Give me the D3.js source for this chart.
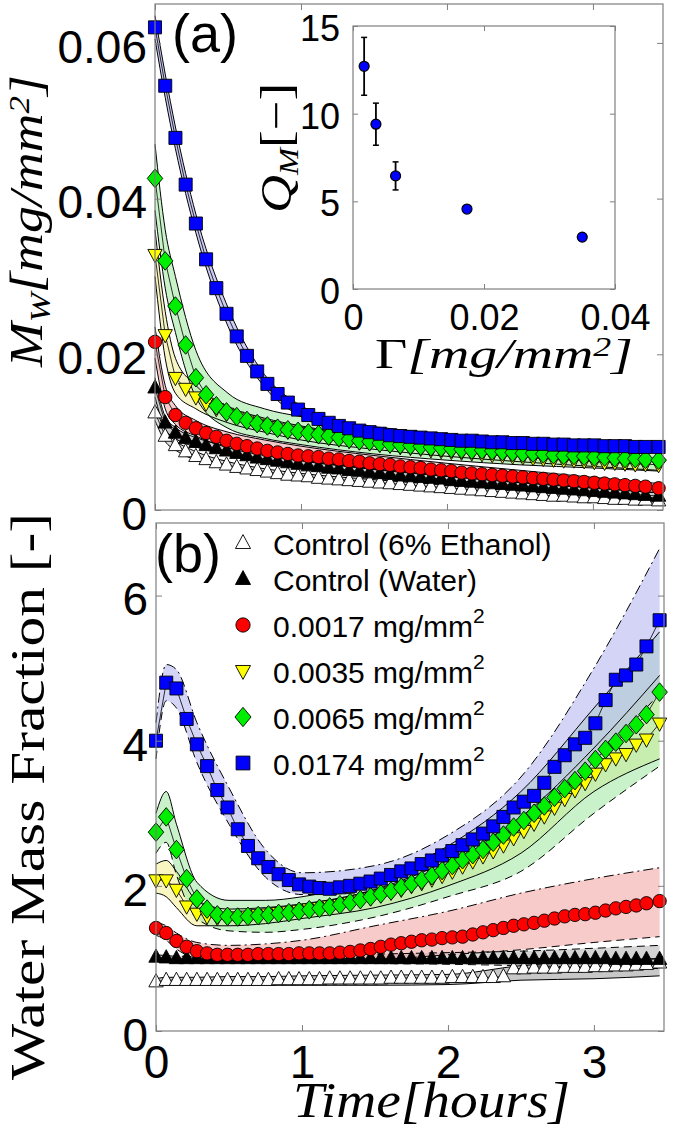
<!DOCTYPE html>
<html><head><meta charset="utf-8">
<script src="https://cdn.jsdelivr.net/npm/d3@7"></script>
<style>body{margin:0;background:#fff}svg{display:block}</style>
</head><body>
<svg id="chart" width="675" height="1133"></svg>
<script>
// ---------------- DATA ----------------
const time = [0,0.07,0.14,0.21,0.28,0.35,0.42,0.49,0.56,0.63,0.70,0.77,0.84,0.91,0.98,1.05,1.12,1.19,1.26,1.33,1.40,1.47,1.54,1.61,1.68,1.75,1.82,1.89,1.96,2.03,2.10,2.17,2.24,2.31,2.38,2.45,2.52,2.59,2.66,2.73,2.80,2.87,2.94,3.01,3.08,3.15,3.22,3.29,3.36,3.45];
const seriesNames = ["Control (6% Ethanol)","Control (Water)","0.0017 mg/mm","0.0035 mg/mm","0.0065 mg/mm","0.0174 mg/mm"];
const seriesSup = [false,false,true,true,true,true];

// (a) water mass per area
const mwEthanol = [0.0125,0.0095,0.0083,0.0075,0.0069,0.0065,0.0061,0.0058,0.0055,0.0053,
 0.0051,0.0049,0.0047,0.0045,0.0044,0.0043,0.0041,0.0040,0.0039,0.0038,
 0.0037,0.0036,0.0035,0.0034,0.0033,0.0032,0.0031,0.0030,0.0029,0.0028,
 0.0027,0.0026,0.0025,0.0024,0.0023,0.0022,0.0021,0.0020,0.0019,0.0018,
 0.0018,0.0017,0.0016,0.0016,0.0015,0.0014,0.0014,0.0013,0.0013,0.0012];
const mwWater = [0.0157,0.0112,0.0099,0.0092,0.0087,0.0083,0.0079,0.0076,0.0073,0.0070,
 0.0067,0.0065,0.0063,0.0061,0.0059,0.0057,0.0056,0.0054,0.0053,0.0051,
 0.0050,0.0048,0.0047,0.0046,0.0044,0.0043,0.0042,0.0041,0.0040,0.0038,
 0.0037,0.0036,0.0035,0.0034,0.0033,0.0032,0.0031,0.0030,0.0029,0.0028,
 0.0027,0.0026,0.0025,0.0024,0.0023,0.0022,0.0021,0.0020,0.0019,0.0018];
const mw0017 = [0.0216,0.0145,0.0122,0.0112,0.0105,0.0099,0.0094,0.0089,0.0085,0.0082,
 0.0079,0.0076,0.0074,0.0072,0.0070,0.0069,0.0068,0.0066,0.0065,0.0063,
 0.0062,0.0060,0.0059,0.0058,0.0056,0.0055,0.0054,0.0052,0.0051,0.0050,
 0.0048,0.0047,0.0046,0.0045,0.0044,0.0043,0.0042,0.0041,0.0040,0.0039,
 0.0038,0.0037,0.0036,0.0035,0.0034,0.0033,0.0032,0.0031,0.0030,0.0028];
const mw0035 = [0.0328,0.0225,0.0170,0.0156,0.0145,0.0137,0.0130,0.0124,0.0119,0.0114,
 0.0110,0.0107,0.0104,0.0101,0.0099,0.0097,0.0095,0.0093,0.0091,0.0089,
 0.0087,0.0086,0.0084,0.0083,0.0081,0.0080,0.0079,0.0077,0.0076,0.0075,
 0.0074,0.0073,0.0072,0.0071,0.0070,0.0069,0.0068,0.0067,0.0066,0.0065,
 0.0064,0.0064,0.0063,0.0062,0.0061,0.0061,0.0060,0.0059,0.0059,0.0058];
const mw0065 = [0.0426,0.0320,0.0262,0.0212,0.0170,0.0148,0.0134,0.0126,0.0120,0.0115,
 0.0111,0.0108,0.0105,0.0103,0.0101,0.0099,0.0097,0.0095,0.0093,0.0091,
 0.0089,0.0088,0.0086,0.0085,0.0084,0.0083,0.0082,0.0081,0.0080,0.0079,
 0.0078,0.0077,0.0077,0.0076,0.0075,0.0074,0.0073,0.0073,0.0072,0.0071,
 0.0070,0.0070,0.0069,0.0068,0.0068,0.0067,0.0066,0.0066,0.0065,0.0064];
const mw0174 = [0.0620,0.0545,0.0478,0.0418,0.0368,0.0322,0.0285,0.0252,0.0223,0.0198,
 0.0178,0.0162,0.0149,0.0138,0.0129,0.0122,0.0117,0.0112,0.0108,0.0105,
 0.0102,0.0100,0.0098,0.0096,0.0095,0.0094,0.0093,0.0092,0.0091,0.0090,
 0.0089,0.0089,0.0088,0.0087,0.0087,0.0086,0.0086,0.0085,0.0085,0.0084,
 0.0084,0.0083,0.0083,0.0083,0.0082,0.0082,0.0082,0.0081,0.0081,0.0081];

// (a) uncertainty bands (coarse time grid)
const bandTime = [0,0.07,0.14,0.28,0.5,0.75,1.0,1.5,2.0,2.5,3.0,3.45];
const mwEthanolLo = [0.0115,0.0088,0.0077,0.0064,0.0053,0.0045,0.0040,0.0033,0.0026,0.0019,0.0014,0.0010];
const mwEthanolHi = [0.0135,0.0102,0.0089,0.0075,0.0062,0.0053,0.0047,0.0039,0.0032,0.0025,0.0019,0.0015];
const mwWaterLo = [0.0145,0.0104,0.0092,0.0081,0.0070,0.0061,0.0054,0.0043,0.0035,0.0028,0.0021,0.0015];
const mwWaterHi = [0.0170,0.0120,0.0106,0.0093,0.0082,0.0072,0.0064,0.0053,0.0044,0.0036,0.0029,0.0022];
const mw0017Lo = [0.0195,0.0130,0.0110,0.0095,0.0080,0.0070,0.0063,0.0052,0.0043,0.0035,0.0028,0.0022];
const mw0017Hi = [0.0235,0.0160,0.0134,0.0115,0.0100,0.0090,0.0082,0.0070,0.0060,0.0051,0.0042,0.0034];
const mw0035Lo = [0.0300,0.0195,0.0150,0.0130,0.0112,0.0100,0.0090,0.0078,0.0069,0.0062,0.0056,0.0051];
const mw0035Hi = [0.0360,0.0255,0.0195,0.0160,0.0133,0.0118,0.0108,0.0094,0.0085,0.0077,0.0071,0.0066];
const mw0065Lo = [0.0385,0.0285,0.0228,0.0145,0.0105,0.0092,0.0084,0.0072,0.0064,0.0058,0.0054,0.0050];
const mw0065Hi = [0.0470,0.0360,0.0300,0.0205,0.0150,0.0130,0.0120,0.0107,0.0097,0.0088,0.0081,0.0076];
const mw0174Lo = [0.0605,0.0530,0.0464,0.0356,0.0236,0.0158,0.0120,0.0093,0.0084,0.0080,0.0077,0.0075];
const mw0174Hi = [0.0635,0.0560,0.0492,0.0380,0.0260,0.0174,0.0134,0.0105,0.0096,0.0091,0.0088,0.0086];

// (b) water mass fraction
const wfEthanol = [0.68,0.70,0.70,0.70,0.70,0.70,0.70,0.70,0.70,0.70,
 0.70,0.70,0.71,0.71,0.71,0.71,0.71,0.72,0.72,0.72,
 0.72,0.72,0.72,0.73,0.73,0.73,0.73,0.73,0.73,0.74,
 0.74,0.74,0.74,0.74,0.75,0.86,0.86,0.87,0.87,0.87,
 0.88,0.88,0.88,0.89,0.89,0.90,0.90,0.91,0.92,0.94];
const wfWater = [1.02,1.01,1.00,1.00,1.00,1.00,1.00,1.00,1.00,1.00,
 1.00,1.00,1.00,1.00,1.00,1.00,1.00,1.00,1.00,1.00,
 1.00,1.00,1.00,1.00,1.00,1.00,1.00,1.00,1.00,1.00,
 1.00,1.00,1.00,1.00,1.00,1.00,1.00,1.00,1.00,1.00,
 1.00,1.00,1.00,1.00,1.00,0.99,0.99,0.99,0.99,0.99];
const wf0017 = [1.42,1.35,1.24,1.16,1.10,1.07,1.05,1.05,1.05,1.05,
 1.06,1.06,1.06,1.06,1.07,1.07,1.07,1.07,1.08,1.09,
 1.11,1.13,1.16,1.19,1.21,1.23,1.25,1.26,1.28,1.29,
 1.30,1.33,1.36,1.39,1.42,1.45,1.47,1.49,1.52,1.55,
 1.58,1.60,1.61,1.63,1.66,1.69,1.71,1.73,1.76,1.79];
const wf0035 = [2.08,2.08,1.95,1.72,1.62,1.58,1.56,1.56,1.57,1.58,
 1.60,1.61,1.63,1.64,1.66,1.68,1.70,1.72,1.74,1.77,
 1.80,1.83,1.87,1.91,1.95,2.00,2.04,2.09,2.14,2.20,
 2.27,2.34,2.41,2.48,2.56,2.66,2.76,2.86,2.96,3.08,
 3.20,3.32,3.42,3.55,3.68,3.76,3.82,3.95,4.02,4.24];
const wf0065 = [2.74,2.95,2.50,2.10,1.82,1.68,1.60,1.58,1.57,1.58,
 1.59,1.60,1.62,1.63,1.65,1.67,1.69,1.71,1.74,1.77,
 1.81,1.85,1.89,1.93,1.98,2.03,2.08,2.14,2.21,2.28,
 2.36,2.43,2.50,2.60,2.70,2.81,2.90,3.00,3.10,3.22,
 3.34,3.45,3.58,3.74,3.88,3.98,4.10,4.22,4.36,4.67];
const wf0174 = [4.00,4.80,4.72,4.30,3.95,3.65,3.32,3.08,2.78,2.55,
 2.38,2.26,2.16,2.08,2.02,1.99,1.97,1.96,1.98,2.00,
 2.03,2.06,2.10,2.15,2.20,2.24,2.30,2.35,2.42,2.48,
 2.56,2.64,2.72,2.82,2.95,3.08,3.16,3.24,3.42,3.64,
 3.80,3.95,4.04,4.24,4.56,4.84,4.90,5.05,5.30,5.66];

// (b) bands
const wfEthanolLo = [0.64,0.63,0.63,0.63,0.63,0.63,0.63,0.63,0.64,0.70,0.72,0.76];
const wfEthanolHi = [0.72,0.74,0.74,0.74,0.75,0.75,0.76,0.77,0.78,0.90,0.96,1.00];
const wfWaterLo = [0.97,0.96,0.96,0.95,0.95,0.95,0.94,0.93,0.92,0.90,0.88,0.86];
const wfWaterHi = [1.05,1.04,1.03,1.03,1.03,1.04,1.05,1.06,1.08,1.10,1.14,1.18];
const wf0017Lo = [1.32,1.25,1.13,1.00,0.96,0.95,0.95,0.98,1.05,1.12,1.22,1.30];
const wf0017Hi = [1.50,1.45,1.35,1.22,1.18,1.20,1.25,1.45,1.65,1.90,2.10,2.25];
const wf0035Lo = [1.90,1.85,1.70,1.45,1.45,1.48,1.55,1.70,2.00,2.45,3.30,3.75];
const wf0035Hi = [2.30,2.35,2.20,1.80,1.68,1.70,1.75,1.95,2.35,2.95,3.90,4.90];
const wf0065Lo = [2.45,2.60,2.15,1.55,1.38,1.36,1.40,1.57,1.85,2.20,3.00,3.65];
const wf0065Hi = [3.00,3.30,2.85,2.05,1.80,1.80,1.85,2.10,2.55,3.30,4.45,5.50];
const wf0174Lo = [3.75,4.55,4.45,3.70,2.85,2.12,1.88,1.92,2.22,2.78,3.70,4.65];
const wf0174Hi = [4.25,5.05,4.98,4.25,3.35,2.50,2.18,2.28,2.70,3.50,5.00,6.65];

// inset
const gammaVals = [0.0017,0.0035,0.0065,0.0174,0.0350];
const qmVals = [12.7,9.4,6.45,4.56,2.96];
const qmErr = [1.65,1.2,0.8,0.1,0.08];

// tick labels
const ticksTopY = [0,0.02,0.04,0.06];
const ticksBotY = [0,2,4,6];
const ticksX = [0,1,2,3];
const insetTicksX = [0,0.02,0.04];
const insetTicksY = [0,5,10,15];

// ---------------- STYLE ----------------
const markerFill = ["#ffffff","#000000","#ff0000","#ffff00","#00ee00","#0000ff"];
const bandFillA = ["#d0d0d0","#b8b8b8","#f4b8b8","#f6f2b0","#b6eeb6","#b8b8f0"];
const bandFillB = ["#9a9a9a","#b0b0b0","#f2a0a0","#f4ee90","#9ee89e","#b0b0f0"];
const serifFont = "'Liberation Serif', 'Times New Roman', Tinos, serif";
const sansFont = "'Liberation Sans', Arial, sans-serif";

const svg = d3.select("#chart");
const frameCol = "#7f7f7f";

// symbol types
const symSquare = {draw(c,s){const h=Math.sqrt(s)/2;c.moveTo(-h,-h);c.lineTo(h,-h);c.lineTo(h,h);c.lineTo(-h,h);c.closePath();}};
const symCircle = d3.symbolCircle;
const symTriUp = {draw(c,s){const w=Math.sqrt(s);c.moveTo(0,-w*0.58);c.lineTo(w*0.52,w*0.38);c.lineTo(-w*0.52,w*0.38);c.closePath();}};
const symTriDown = {draw(c,s){const w=Math.sqrt(s);c.moveTo(0,w*0.58);c.lineTo(w*0.52,-w*0.38);c.lineTo(-w*0.52,-w*0.38);c.closePath();}};
const symDiamond = {draw(c,s){const w=Math.sqrt(s);c.moveTo(0,-w*0.6);c.lineTo(w*0.5,0);c.lineTo(0,w*0.6);c.lineTo(-w*0.5,0);c.closePath();}};
const symTypes = [symTriUp,symTriUp,symCircle,symTriDown,symDiamond,symSquare];
const symSizes = [190,190,140,190,240,170];

// ---------------- SCALES ----------------
const xA = d3.scaleLinear().domain([0,3.48]).range([155,663]);
const yA = d3.scaleLinear().domain([0,0.065]).range([510,4]);
const xB = d3.scaleLinear().domain([0,3.48]).range([156,664]);
const yB = d3.scaleLinear().domain([0,7]).range([1031,523]);
const xI = d3.scaleLinear().domain([0,0.04]).range([353,615]);
const yI = d3.scaleLinear().domain([0,15]).range([289,26]);

function drawPanel(g, x, y, series, bands, bandFill, bandOpacity, edgeStyles){
  bands.forEach((b,i)=>{
    const pts = bandTime.map((t,k)=>({t, lo:b[0][k], hi:b[1][k]}));
    g.append("path").datum(pts)
      .attr("d", d3.area().x(d=>x(d.t)).y0(d=>y(d.lo)).y1(d=>y(d.hi)).curve(d3.curveMonotoneX))
      .attr("fill", bandFill[i]).attr("fill-opacity", bandOpacity).attr("stroke","none");
  });
  bands.forEach((b,i)=>{
    const pts = bandTime.map((t,k)=>({t, lo:b[0][k], hi:b[1][k]}));
    const es = edgeStyles[i];
    g.append("path").datum(pts)
      .attr("d", d3.line().x(d=>x(d.t)).y(d=>y(d.lo)).curve(d3.curveMonotoneX))
      .attr("fill","none").attr("stroke","#000").attr("stroke-width",1).attr("stroke-dasharray",es[0]);
    g.append("path").datum(pts)
      .attr("d", d3.line().x(d=>x(d.t)).y(d=>y(d.hi)).curve(d3.curveMonotoneX))
      .attr("fill","none").attr("stroke","#000").attr("stroke-width",1).attr("stroke-dasharray",es[1]);
  });
  series.forEach((vals,i)=>{
    const pts = time.map((t,k)=>({t, v:vals[k]}));
    g.append("path").datum(pts)
      .attr("d", d3.line().x(d=>x(d.t)).y(d=>y(d.v)))
      .attr("fill","none").attr("stroke","#000").attr("stroke-width",0.8);
    g.selectAll(null).data(pts).enter().append("path")
      .attr("transform", d=>`translate(${x(d.t)},${y(d.v)})`)
      .attr("d", d3.symbol().type(symTypes[i]).size(symSizes[i]))
      .attr("fill", markerFill[i]).attr("stroke","#000").attr("stroke-width",0.9);
  });
}

function frame(g, x, y, xt, yt, showXLabels, yFmt, fs){
  const [x0,x1] = x.range(); const [y0,y1] = y.range();
  g.append("rect").attr("x",x0).attr("y",y1).attr("width",x1-x0).attr("height",y0-y1)
    .attr("fill","none").attr("stroke",frameCol).attr("stroke-width",1.2);
  const ax = g.append("g").attr("transform",`translate(${x0},0)`)
    .call(d3.axisLeft(y).tickValues(yt).tickSize(-6).tickPadding(8).tickFormat(yFmt));
  const axR = g.append("g").attr("transform",`translate(${x1},0)`)
    .call(d3.axisRight(y).tickValues(yt).tickSize(-6).tickFormat(""));
  const axB = g.append("g").attr("transform",`translate(0,${y0})`)
    .call(d3.axisBottom(x).tickValues(xt).tickSize(-6).tickPadding(14).tickFormat(showXLabels? d3.format("d") : ""));
  const axT = g.append("g").attr("transform",`translate(0,${y1})`)
    .call(d3.axisTop(x).tickValues(xt).tickSize(-6).tickFormat(""));
  [ax,axR,axB,axT].forEach(a=>{
    a.select(".domain").remove();
    a.selectAll(".tick line").attr("stroke",frameCol);
    a.selectAll("text").attr("font-family",sansFont).attr("font-size",fs).attr("fill","#000");
  });
  ax.selectAll("text").attr("dy","0.42em");
}

// ---------- Panel (a) ----------
const gA = svg.append("g");
drawPanel(gA, xA, yA,
  [mwEthanol,mwWater,mw0017,mw0035,mw0065,mw0174],
  [[mwEthanolLo,mwEthanolHi],[mwWaterLo,mwWaterHi],[mw0017Lo,mw0017Hi],[mw0035Lo,mw0035Hi],[mw0065Lo,mw0065Hi],[mw0174Lo,mw0174Hi]],
  bandFillA, 0.75,
  [["",""],["",""],["",""],["",""],["",""],["",""]]);
frame(gA, xA, yA, ticksX, ticksTopY, false, d=> d===0 ? "0" : d3.format(".2f")(d), 46);
gA.append("text").attr("x",172).attr("y",52).attr("font-family",sansFont)
  .attr("font-size",54).text("(a)");

// inset
const gI = svg.append("g");
gI.append("rect").attr("x",353).attr("y",26).attr("width",262).attr("height",263).attr("fill","#fff");
gI.selectAll(null).data(gammaVals).enter().append("g").each(function(d,i){
  const g = d3.select(this); const cx = xI(d);
  const top = yI(qmVals[i]+qmErr[i]), bot = yI(qmVals[i]-qmErr[i]);
  g.append("line").attr("x1",cx).attr("x2",cx).attr("y1",top).attr("y2",bot).attr("stroke","#000").attr("stroke-width",1.8);
  g.append("line").attr("x1",cx-3).attr("x2",cx+3).attr("y1",top).attr("y2",top).attr("stroke","#000").attr("stroke-width",1.5);
  g.append("line").attr("x1",cx-3).attr("x2",cx+3).attr("y1",bot).attr("y2",bot).attr("stroke","#000").attr("stroke-width",1.5);
  g.append("circle").attr("cx",cx).attr("cy",yI(qmVals[i])).attr("r",5).attr("fill","#0000ff").attr("stroke","#000").attr("stroke-width",1.2);
});
(function(){
  const g = gI;
  g.append("rect").attr("x",353).attr("y",26).attr("width",262).attr("height",263).attr("fill","none").attr("stroke",frameCol).attr("stroke-width",1.2);
  const a1 = g.append("g").attr("transform","translate(353,0)").call(d3.axisLeft(yI).tickValues(insetTicksY).tickSize(-5).tickPadding(13).tickFormat(d3.format("d")));
  const a2 = g.append("g").attr("transform","translate(615,0)").call(d3.axisRight(yI).tickValues(insetTicksY).tickSize(-5).tickFormat(""));
  const a3 = g.append("g").attr("transform","translate(0,289)").call(d3.axisBottom(xI).tickValues(insetTicksX).tickSize(-5).tickPadding(15).tickFormat(d=> d===0?"0":d3.format(".2f")(d)));
  const a4 = g.append("g").attr("transform","translate(0,26)").call(d3.axisTop(xI).tickValues(insetTicksX).tickSize(-5).tickFormat(""));
  [a1,a2,a3,a4].forEach(a=>{a.select(".domain").remove(); a.selectAll(".tick line").attr("stroke",frameCol);
    a.selectAll("text").attr("font-family",sansFont).attr("font-size",36).attr("fill","#000");});
  a1.selectAll("text").attr("dy","0.4em");
  const xl = g.append("text").attr("x",375).attr("y",368).attr("font-family",serifFont).attr("font-size",42)
    .attr("textLength",258).attr("lengthAdjust","spacingAndGlyphs");
  xl.append("tspan").text("Γ");
  xl.append("tspan").attr("font-style","italic").text("[mg/mm");
  xl.append("tspan").attr("font-style","italic").attr("font-size",27).attr("baseline-shift","45%").text("2");
  xl.append("tspan").attr("font-style","italic").text("]");
  const yl = g.append("text").attr("transform","translate(291,213) rotate(-90)").attr("font-family",serifFont).attr("font-size",44)
    .attr("textLength",130).attr("lengthAdjust","spacingAndGlyphs");
  yl.append("tspan").attr("font-style","italic").text("Q");
  yl.append("tspan").attr("font-style","italic").attr("font-size",27).attr("baseline-shift","-25%").text("M");
  yl.append("tspan").text("[−]");
})();

// ---------- Panel (b) ----------
const gB = svg.append("g");
gB.append("rect").attr("x",156).attr("y",523).attr("width",508).attr("height",508).attr("fill","#fff");
drawPanel(gB, xB, yB,
  [wfEthanol,wfWater,wf0017,wf0035,wf0065,wf0174],
  [[wfEthanolLo,wfEthanolHi],[wfWaterLo,wfWaterHi],[wf0017Lo,wf0017Hi],[wf0035Lo,wf0035Hi],[wf0065Lo,wf0065Hi],[wf0174Lo,wf0174Hi]],
  bandFillB, 0.55,
  [["",""],["8,5","8,5"],["8,5","10,4,2,4"],["",""],["8,5",""],["8,5","10,4,2,4"]]);
frame(gB, xB, yB, ticksX, ticksBotY, true, d3.format("d"), 46);
gB.append("text").attr("x",155).attr("y",572).attr("font-family",sansFont)
  .attr("font-size",54).text("(b)");

// legend
let baseY = 555;
seriesNames.forEach((name,i)=>{
  if(i>0) baseY += seriesSup[i] ? 46 : 36;
  gB.append("path").attr("transform",`translate(243,${baseY-12})`)
    .attr("d", d3.symbol().type(symTypes[i]).size(symSizes[i]+20))
    .attr("fill", markerFill[i]).attr("stroke","#000").attr("stroke-width",0.9);
  const t = gB.append("text").attr("x",273).attr("y",baseY).attr("font-family",sansFont).attr("font-size",30);
  t.append("tspan").text(name);
  if(seriesSup[i]) t.append("tspan").attr("font-size",21).attr("dy",-14).text("2");
});

// axis titles
const tA = svg.append("text").attr("transform","translate(42,367) rotate(-90)")
  .attr("font-family",serifFont).attr("font-size",46).attr("font-style","italic")
  .attr("textLength",292).attr("lengthAdjust","spacingAndGlyphs");
tA.append("tspan").text("M");
tA.append("tspan").attr("font-size",30).attr("baseline-shift","-25%").text("W");
tA.append("tspan").text("[mg/mm");
tA.append("tspan").attr("font-size",30).attr("baseline-shift","45%").text("2");
tA.append("tspan").text("]");

svg.append("text").attr("transform","translate(44,1080) rotate(-90)")
  .attr("font-family",serifFont).attr("font-size",48)
  .attr("textLength",567).attr("lengthAdjust","spacingAndGlyphs")
  .text("Water Mass Fraction [-]");

svg.append("text").attr("x",293).attr("y",1117)
  .attr("font-family",serifFont).attr("font-size",50).attr("font-style","italic")
  .attr("textLength",277).attr("lengthAdjust","spacingAndGlyphs")
  .text("Time[hours]");
</script>
</body></html>
